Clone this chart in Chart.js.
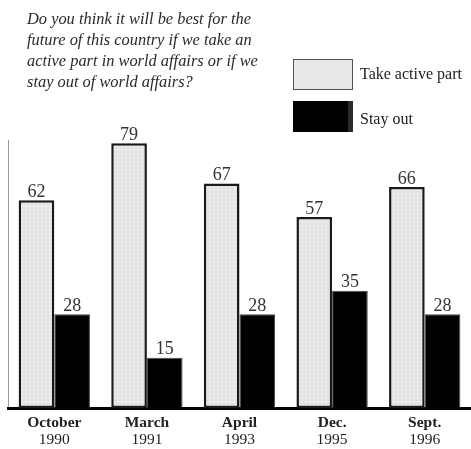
<!DOCTYPE html>
<html>
<head>
<meta charset="utf-8">
<script src="https://cdn.jsdelivr.net/npm/chart.js@4"></script>
<style>
  body { margin: 0; background: #fff; }
  #wrap { position: relative; width: 471px; height: 449px; }
  #title {
    position: absolute; left: 27px; top: 8px;
    font: italic 16.4px "Liberation Serif", serif; line-height: 21px; color: #2a2a2a;
  }
  .leg { position: absolute; left: 293px; width: 60px; height: 31px; box-sizing: border-box; }
  .legtext { position: absolute; left: 360px; font: 16px "Liberation Serif", serif; color: #222; }
</style>
</head>
<body>
<div id="wrap">
  <canvas id="chart" width="471" height="449"></canvas>
  <div id="title"></div>
  <div id="legend"></div>
</div>
<script>
const titleLines = [
  "Do you think it will be best for the",
  "future of this country if we take an",
  "active part in world affairs or if we",
  "stay out of world affairs?"
];
const months = ["October", "March", "April", "Dec.", "Sept."];
const years = ["1990", "1991", "1993", "1995", "1996"];
const seriesNames = ["Take active part", "Stay out"];
const activePart = [62, 79, 67, 57, 66];
const stayOut = [28, 15, 28, 35, 28];

document.getElementById("title").innerHTML = titleLines.join("<br>");

// dotted light gray fill like the print screen
function makePattern() {
  const c = document.createElement("canvas");
  c.width = 4; c.height = 4;
  const g = c.getContext("2d");
  g.fillStyle = "#e4e4e4";
  g.fillRect(0, 0, 4, 4);
  g.fillStyle = "#f0f0f0";
  g.fillRect(1, 1, 2, 2);
  return g.createPattern(c, "repeat");
}
const lightFill = makePattern();

// legend
const legend = document.getElementById("legend");
legend.innerHTML =
  '<div class="leg" style="top:59px;background:#e8e8e8;border:1px solid #555"></div>' +
  '<div class="legtext" style="top:65px">' + seriesNames[0] + '</div>' +
  '<div class="leg" style="top:101px;background:#000;border-right:5px solid #2a2a2a"></div>' +
  '<div class="legtext" style="top:110px">' + seriesNames[1] + '</div>';

const valueLabels = {
  id: "valueLabels",
  afterDatasetsDraw(chart) {
    const ctx = chart.ctx;
    ctx.save();
    ctx.font = '18px "Liberation Serif", serif';
    ctx.fillStyle = "#333";
    ctx.textAlign = "center";
    ctx.textBaseline = "bottom";
    chart.data.datasets.forEach((ds, i) => {
      chart.getDatasetMeta(i).data.forEach((bar, j) => {
        ctx.fillText(ds.data[j], bar.x, bar.y + 1);
      });
    });
    ctx.restore();
  }
};

// two-line category labels: bold month over plain year
const dateLabels = {
  id: "dateLabels",
  afterDraw(chart) {
    const ctx = chart.ctx;
    const x = chart.scales.x;
    const base = chart.chartArea.bottom;
    ctx.save();
    ctx.fillStyle = "#222";
    ctx.textAlign = "center";
    ctx.textBaseline = "middle";
    months.forEach((m, i) => {
      const px = x.getPixelForTick(i);
      ctx.font = 'bold 15.5px "Liberation Serif", serif';
      ctx.fillText(m, px, base + 15);
      ctx.font = '15.5px "Liberation Serif", serif';
      ctx.fillText(years[i], px, base + 32);
    });
    ctx.restore();
  }
};

new Chart(document.getElementById("chart"), {
  type: "bar",
  data: {
    labels: months,
    datasets: [
      {
        label: seriesNames[0],
        data: activePart,
        backgroundColor: lightFill,
        borderColor: "#1a1a1a",
        borderWidth: 2.5,
        borderSkipped: false
      },
      {
        label: seriesNames[1],
        data: stayOut,
        backgroundColor: "#000",
        borderColor: "#444",
        borderWidth: 1,
        borderSkipped: "bottom"
      }
    ]
  },
  options: {
    responsive: false,
    animation: false,
    layout: { padding: { top: 140, left: 8, right: 0, bottom: 41 } },
    datasets: { bar: { barPercentage: 1, categoryPercentage: 0.77 } },
    plugins: { legend: { display: false }, tooltip: { enabled: false } },
    scales: {
      y: {
        min: 0,
        max: 80,
        ticks: { display: false },
        grid: { display: false, drawTicks: false },
        border: { display: true, color: "#999", width: 1 }
      },
      x: {
        ticks: { display: false },
        grid: { display: false, drawTicks: false },
        border: { display: true, color: "#000", width: 3 }
      }
    }
  },
  plugins: [valueLabels, dateLabels]
});
</script>
</body>
</html>
